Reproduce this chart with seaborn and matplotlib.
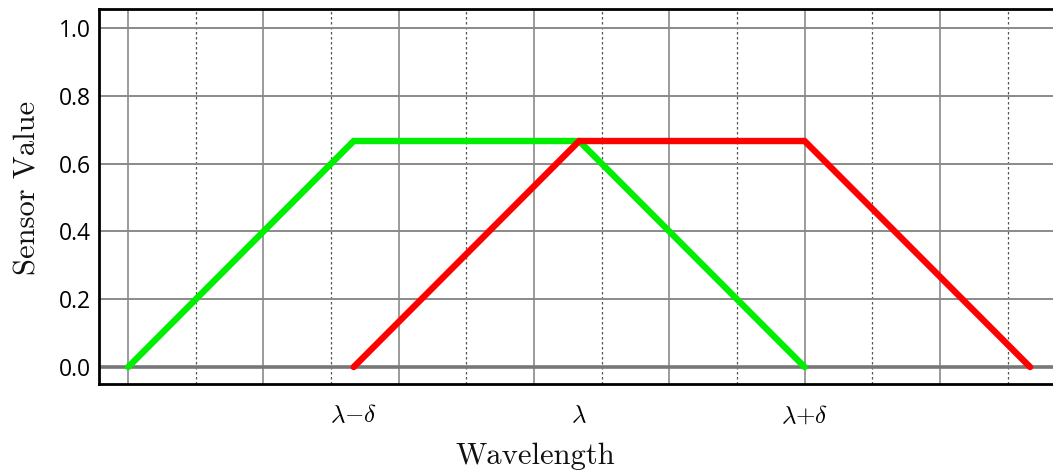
import matplotlib
matplotlib.use("Agg")
import matplotlib.pyplot as plt
import seaborn as sns
import pandas as pd
import numpy as np

# data (x in units of delta, relative to lambda)
green_x = [-2, -1, 0, 1]
green_y = [0, 2/3, 2/3, 0]
red_x = [-1, 0, 1, 2]
red_y = [0, 2/3, 2/3, 0]
xtick_pos = [-1, 0, 1]
xtick_labels = [r"$\lambda{-}\delta$", r"$\lambda$", r"$\lambda{+}\delta$"]
ytick_pos = [0.0, 0.2, 0.4, 0.6, 0.8, 1.0]
ytick_labels = ["0.0", "0.2", "0.4", "0.6", "0.8", "1.0"]

sns.set_theme(style="white")
plt.rcParams["mathtext.fontset"] = "cm"

fig = plt.figure(figsize=(10.53, 4.74), dpi=100)
ax = fig.add_axes([99/1053, 1-384/474, 1-99/1053 + 0.02, (384-9)/474])

# grid
major_v = np.arange(-2, 2.2, 0.6)
minor_v = np.arange(-1.7, 2.2, 0.6)
for xv in major_v:
    ax.axvline(xv, color="#808080", lw=1.1, zorder=1)
for xv in minor_v:
    ax.axvline(xv, color="#555555", lw=0.9, ls=(0, (2, 2)), zorder=1)
for yv in ytick_pos[1:]:
    ax.axhline(yv, color="#8a8a8a", lw=1.4, zorder=1)
ax.axhline(0, color="#777777", lw=2.6, zorder=1)

df_g = pd.DataFrame({"x": green_x, "y": green_y})
df_r = pd.DataFrame({"x": red_x, "y": red_y})
sns.lineplot(data=df_g, x="x", y="y", ax=ax, color="#00ee00", lw=4.6,
             solid_capstyle="round", solid_joinstyle="miter", zorder=3, sort=False)
sns.lineplot(data=df_r, x="x", y="y", ax=ax, color="#ff0000", lw=4.6,
             solid_capstyle="round", solid_joinstyle="miter", zorder=4, sort=False)

ax.set_xlim((99-578)/226 - 0.01, (1053-578)/226 + 0.02*1053/226)
ax.set_ylim(-0.05, 1.056)

ax.set_xticks(xtick_pos)
ax.set_xticklabels(xtick_labels, fontsize=18, color="black")
ax.set_yticks(ytick_pos)
ax.set_yticklabels(ytick_labels, fontsize=16.5, family="Open Sans", color="black")
ax.tick_params(axis="both", length=0, pad=6)
ax.tick_params(axis="x", pad=14)

ax.set_xlabel("Wavelength", fontsize=22, family="cmr10", color="#111111")
ax.set_ylabel("Sensor Value", fontsize=22, family="cmr10", color="#111111")
ax_w = 1053 * (1-99/1053 + 0.02)
ax.xaxis.set_label_coords((535-99)/ax_w, (384-443)/375)
ax.yaxis.set_label_coords((42-99)/ax_w, (384-188)/375)

for s in ["left", "top", "bottom"]:
    ax.spines[s].set_visible(True)
    ax.spines[s].set_color("black")
    ax.spines[s].set_linewidth(2)
ax.spines["right"].set_visible(False)
ax.grid(False)

fig.savefig("out.png", dpi=100)
